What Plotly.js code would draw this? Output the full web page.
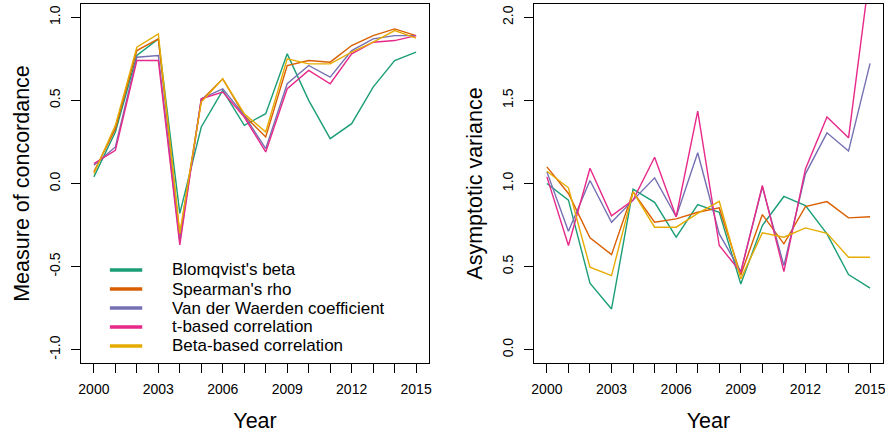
<!DOCTYPE html>
<html>
<head>
<meta charset="utf-8">
<script src="https://cdn.plot.ly/plotly-3.0.1.min.js"></script>
<style>html,body{margin:0;padding:0;background:#fff;}#chart{width:885px;height:436px;}</style>
</head>
<body>
<div id="chart"></div>
<script>
// ---- data ----
const years = [2000, 2001, 2002, 2003, 2004, 2005, 2006, 2007, 2008, 2009, 2010, 2011, 2012, 2013, 2014, 2015];
const yearTickText = ['2000', '', '', '2003', '', '', '2006', '', '', '2009', '', '', '2012', '', '', '2015'];
const seriesNames = ["Blomqvist's beta", "Spearman's rho", "Van der Waerden coefficient", "t-based correlation", "Beta-based correlation"];
const seriesColors = ['#1B9E77', '#D95F02', '#7570B3', '#E7298A', '#E6AB02'];

// Measure of concordance
const concBlomqvist = [0.04, 0.31, 0.77, 0.87, -0.18, 0.34, 0.56, 0.35, 0.42, 0.78, 0.50, 0.27, 0.36, 0.58, 0.74, 0.79];
const concSpearman  = [0.07, 0.33, 0.80, 0.87, -0.31, 0.50, 0.63, 0.41, 0.28, 0.71, 0.74, 0.73, 0.83, 0.89, 0.93, 0.89];
const concVdW       = [0.11, 0.22, 0.76, 0.77, -0.35, 0.51, 0.57, 0.41, 0.21, 0.60, 0.71, 0.64, 0.80, 0.87, 0.89, 0.89];
const concT         = [0.12, 0.20, 0.74, 0.74, -0.37, 0.51, 0.55, 0.40, 0.19, 0.57, 0.68, 0.60, 0.78, 0.85, 0.86, 0.89];
const concBeta      = [0.06, 0.35, 0.82, 0.90, -0.30, 0.49, 0.63, 0.42, 0.31, 0.75, 0.72, 0.72, 0.79, 0.85, 0.92, 0.875];

// Asymptotic variance
const varBlomqvist = [1.00, 0.90, 0.40, 0.245, 0.966, 0.887, 0.677, 0.873, 0.827, 0.395, 0.747, 0.922, 0.867, 0.697, 0.452, 0.371];
const varSpearman  = [1.10, 0.94, 0.673, 0.572, 0.95, 0.767, 0.787, 0.827, 0.853, 0.45, 0.813, 0.637, 0.861, 0.891, 0.793, 0.80];
const varVdW       = [1.07, 0.713, 1.018, 0.767, 0.90, 1.034, 0.80, 1.185, 0.697, 0.47, 0.98, 0.506, 1.058, 1.305, 1.195, 1.723];
const varT         = [1.04, 0.627, 1.092, 0.805, 0.90, 1.158, 0.80, 1.436, 0.627, 0.466, 0.988, 0.47, 1.088, 1.40, 1.275, 2.28];
const varBeta      = [1.074, 0.974, 0.496, 0.446, 0.95, 0.737, 0.737, 0.82, 0.893, 0.426, 0.703, 0.677, 0.733, 0.70, 0.556, 0.556];

const concTicks = [-1, -0.5, 0, 0.5, 1];
const concTickText = ['-1.0', '-0.5', '0.0', '0.5', '1.0'];
const varTicks = [0, 0.5, 1, 1.5, 2];
const varTickText = ['0.0', '0.5', '1.0', '1.5', '2.0'];

// ---- build ----
const concSeries = [concBlomqvist, concSpearman, concVdW, concT, concBeta];
const varSeries = [varBlomqvist, varSpearman, varVdW, varT, varBeta];
const traces = [];
concSeries.forEach((ys, i) => traces.push({
  x: years, y: ys, type: 'scatter', mode: 'lines', name: seriesNames[i],
  line: {color: seriesColors[i], width: 1.4}, xaxis: 'x', yaxis: 'y', showlegend: false
}));
varSeries.forEach((ys, i) => traces.push({
  x: years, y: ys, type: 'scatter', mode: 'lines', name: seriesNames[i],
  line: {color: seriesColors[i], width: 1.4}, xaxis: 'x2', yaxis: 'y2', showlegend: false
}));

const FONT = 'Liberation Sans, Arial, Helvetica, sans-serif';
const baseX = {
  range: [1999.4, 2015.6], tickmode: 'array', tickvals: years, ticktext: yearTickText,
  ticks: 'outside', ticklen: 9, tickwidth: 1, tickcolor: '#000',
  showline: true, mirror: true, linecolor: '#000', linewidth: 1,
  showgrid: false, zeroline: false, tickfont: {size: 14, color: '#000', family: FONT},
  ticklabelstandoff: 4, ticklabeloverflow: 'allow',
  title: {text: 'Year', font: {size: 21.5, color: '#000', family: FONT}, standoff: 17}
};
const baseY = {
  tickmode: 'array', tickangle: -90,
  ticks: 'outside', ticklen: 9, tickwidth: 1, tickcolor: '#000',
  showline: true, mirror: true, linecolor: '#000', linewidth: 1,
  showgrid: false, zeroline: false, tickfont: {size: 14, color: '#000', family: FONT},
  ticklabelstandoff: 5, ticklabeloverflow: 'allow'
};

// legend (drawn inside left panel)
const legendRows = [0.2591, 0.2061, 0.1532, 0.1003, 0.0474];
const shapes = [];
const annotations = [];
seriesNames.forEach((nm, i) => {
  shapes.push({type: 'line', xref: 'x domain', yref: 'y domain', x0: 0.083, x1: 0.176,
    y0: legendRows[i], y1: legendRows[i], line: {color: seriesColors[i], width: 3.5}});
  annotations.push({xref: 'x domain', yref: 'y domain', x: 0.257, y: legendRows[i],
    xanchor: 'left', yanchor: 'middle', showarrow: false, text: nm, height: 17, valign: 'middle',
    font: {size: 17, color: '#000', family: FONT}});
});

const layout = {
  width: 885, height: 436, margin: {l: 81, r: 2, t: 4, b: 73},
  paper_bgcolor: '#fff', plot_bgcolor: '#fff', showlegend: false,
  font: {family: FONT, color: '#000'},
  xaxis: Object.assign({}, baseX, {domain: [0, 0.4339], anchor: 'y'}),
  yaxis: Object.assign({}, baseY, {range: [-1.08, 1.08], tickvals: concTicks, ticktext: concTickText, anchor: 'x',
    title: {text: 'Measure of concordance', font: {size: 21.5, color: '#000', family: FONT}, standoff: 11}}),
  xaxis2: Object.assign({}, baseX, {domain: [0.5648, 1], anchor: 'y2'}),
  yaxis2: Object.assign({}, baseY, {range: [-0.08, 2.08], tickvals: varTicks, ticktext: varTickText, anchor: 'x2',
    title: {text: 'Asymptotic variance', font: {size: 21.5, color: '#000', family: FONT}, standoff: 11}}),
  shapes: shapes, annotations: annotations
};

Plotly.newPlot('chart', traces, layout, {staticPlot: true, displayModeBar: false});
</script>
</body>
</html>
